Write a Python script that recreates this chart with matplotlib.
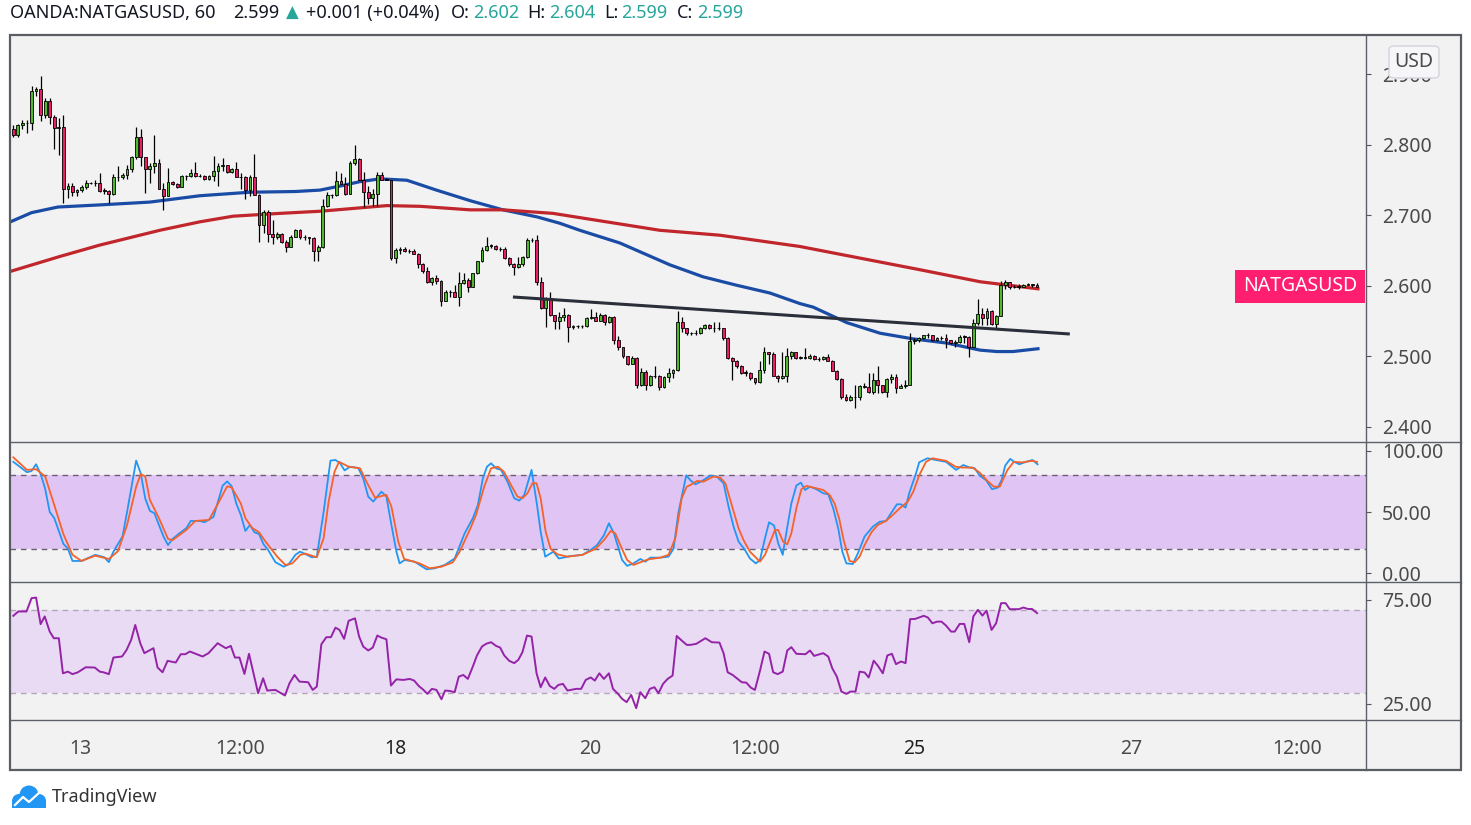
import matplotlib
matplotlib.use("Agg")
import numpy as np
import matplotlib.pyplot as plt
import matplotlib.transforms as mtransforms
from matplotlib.patches import Rectangle, FancyBboxPatch, Circle
from matplotlib.lines import Line2D

W, H = 1471, 825

# hourly candles, OANDA:NATGASUSD
opens = [
    2.822, 2.814, 2.828, 2.831, 2.831, 2.876, 2.880, 2.842, 2.863, 2.839,
    2.824, 2.825, 2.737, 2.742, 2.733, 2.736, 2.740, 2.746, 2.746, 2.746,
    2.735, 2.735, 2.730, 2.754, 2.754, 2.757, 2.766, 2.783, 2.811, 2.783,
    2.766, 2.770, 2.775, 2.737, 2.728, 2.747, 2.745, 2.741, 2.756, 2.756,
    2.760, 2.756, 2.756, 2.752, 2.756, 2.763, 2.770, 2.771, 2.762, 2.766,
    2.754, 2.754, 2.736, 2.754, 2.729, 2.687, 2.705, 2.674, 2.670, 2.674,
    2.663, 2.656, 2.670, 2.680, 2.669, 2.669, 2.668, 2.650, 2.655, 2.713,
    2.729, 2.729, 2.749, 2.745, 2.731, 2.774, 2.780, 2.751, 2.734, 2.725,
    2.731, 2.757, 2.751, 2.751, 2.639, 2.651, 2.652, 2.649, 2.650, 2.646,
    2.631, 2.621, 2.605, 2.612, 2.607, 2.579, 2.591, 2.591, 2.584, 2.604,
    2.609, 2.599, 2.618, 2.635, 2.651, 2.657, 2.657, 2.652, 2.652, 2.639,
    2.631, 2.627, 2.631, 2.641, 2.665, 2.665, 2.606, 2.569, 2.583, 2.559,
    2.551, 2.556, 2.559, 2.542, 2.543, 2.543, 2.543, 2.554, 2.556, 2.551,
    2.559, 2.549, 2.556, 2.524, 2.513, 2.500, 2.490, 2.498, 2.459, 2.478,
    2.459, 2.472, 2.472, 2.457, 2.471, 2.476, 2.481, 2.549, 2.540, 2.533,
    2.533, 2.534, 2.540, 2.545, 2.540, 2.540, 2.540, 2.526, 2.498, 2.494,
    2.487, 2.477, 2.477, 2.469, 2.464, 2.481, 2.506, 2.504, 2.473, 2.470,
    2.473, 2.500, 2.506, 2.498, 2.498, 2.498, 2.501, 2.496, 2.496, 2.499,
    2.494, 2.480, 2.468, 2.443, 2.438, 2.442, 2.442, 2.458, 2.457, 2.449,
    2.467, 2.459, 2.449, 2.468, 2.471, 2.456, 2.458, 2.460, 2.522, 2.523,
    2.526, 2.530, 2.530, 2.523, 2.526, 2.526, 2.523, 2.519, 2.520, 2.528,
    2.528, 2.514, 2.547, 2.560, 2.555, 2.565, 2.546, 2.558, 2.602, 2.605,
    2.598, 2.599, 2.599, 2.602, 2.602, 2.602,
]
highs = [
    2.828, 2.830, 2.836, 2.835, 2.884, 2.882, 2.898, 2.867, 2.867, 2.842,
    2.838, 2.843, 2.746, 2.746, 2.738, 2.743, 2.750, 2.748, 2.750, 2.760,
    2.739, 2.736, 2.759, 2.770, 2.760, 2.771, 2.785, 2.825, 2.822, 2.783,
    2.774, 2.814, 2.780, 2.746, 2.767, 2.749, 2.746, 2.757, 2.758, 2.766,
    2.776, 2.759, 2.757, 2.757, 2.784, 2.774, 2.781, 2.772, 2.768, 2.776,
    2.760, 2.756, 2.757, 2.787, 2.731, 2.708, 2.708, 2.693, 2.677, 2.675,
    2.665, 2.672, 2.681, 2.681, 2.672, 2.670, 2.669, 2.658, 2.724, 2.734,
    2.731, 2.763, 2.760, 2.754, 2.777, 2.800, 2.782, 2.762, 2.742, 2.738,
    2.761, 2.761, 2.753, 2.751, 2.654, 2.656, 2.656, 2.652, 2.652, 2.647,
    2.632, 2.627, 2.613, 2.615, 2.608, 2.594, 2.594, 2.602, 2.620, 2.619,
    2.611, 2.619, 2.636, 2.655, 2.670, 2.660, 2.658, 2.655, 2.656, 2.641,
    2.633, 2.641, 2.642, 2.668, 2.668, 2.672, 2.613, 2.585, 2.592, 2.559,
    2.563, 2.569, 2.560, 2.545, 2.545, 2.545, 2.556, 2.567, 2.563, 2.561,
    2.560, 2.558, 2.557, 2.529, 2.514, 2.501, 2.501, 2.499, 2.484, 2.481,
    2.474, 2.487, 2.474, 2.473, 2.483, 2.482, 2.564, 2.556, 2.541, 2.535,
    2.537, 2.542, 2.546, 2.546, 2.549, 2.549, 2.541, 2.527, 2.499, 2.495,
    2.488, 2.481, 2.478, 2.470, 2.494, 2.514, 2.507, 2.506, 2.474, 2.507,
    2.512, 2.508, 2.507, 2.500, 2.512, 2.504, 2.502, 2.499, 2.500, 2.503,
    2.495, 2.481, 2.469, 2.447, 2.446, 2.459, 2.459, 2.463, 2.477, 2.477,
    2.486, 2.460, 2.470, 2.475, 2.475, 2.461, 2.466, 2.534, 2.526, 2.528,
    2.531, 2.533, 2.531, 2.527, 2.529, 2.532, 2.524, 2.523, 2.530, 2.531,
    2.529, 2.553, 2.581, 2.569, 2.569, 2.566, 2.559, 2.607, 2.609, 2.606,
    2.601, 2.603, 2.603, 2.604, 2.603, 2.604,
]
lows = [
    2.811, 2.812, 2.822, 2.817, 2.821, 2.870, 2.834, 2.838, 2.830, 2.794,
    2.786, 2.718, 2.725, 2.728, 2.727, 2.734, 2.738, 2.744, 2.742, 2.734,
    2.731, 2.717, 2.729, 2.749, 2.752, 2.752, 2.762, 2.780, 2.770, 2.732,
    2.746, 2.760, 2.737, 2.708, 2.728, 2.743, 2.739, 2.740, 2.751, 2.754,
    2.755, 2.754, 2.750, 2.750, 2.749, 2.742, 2.763, 2.760, 2.760, 2.754,
    2.738, 2.723, 2.727, 2.729, 2.663, 2.675, 2.663, 2.660, 2.666, 2.661,
    2.648, 2.655, 2.669, 2.667, 2.665, 2.659, 2.635, 2.636, 2.654, 2.712,
    2.725, 2.727, 2.744, 2.729, 2.730, 2.772, 2.751, 2.712, 2.716, 2.714,
    2.713, 2.750, 2.750, 2.637, 2.633, 2.646, 2.648, 2.647, 2.645, 2.626,
    2.618, 2.604, 2.602, 2.603, 2.571, 2.579, 2.585, 2.584, 2.572, 2.603,
    2.591, 2.598, 2.617, 2.634, 2.650, 2.654, 2.651, 2.650, 2.638, 2.629,
    2.615, 2.626, 2.628, 2.640, 2.662, 2.602, 2.568, 2.542, 2.558, 2.539,
    2.539, 2.551, 2.521, 2.539, 2.541, 2.541, 2.542, 2.553, 2.550, 2.550,
    2.544, 2.548, 2.518, 2.509, 2.498, 2.488, 2.489, 2.456, 2.458, 2.453,
    2.458, 2.469, 2.453, 2.456, 2.464, 2.470, 2.480, 2.535, 2.531, 2.531,
    2.530, 2.532, 2.539, 2.539, 2.535, 2.537, 2.524, 2.497, 2.466, 2.484,
    2.475, 2.472, 2.467, 2.461, 2.463, 2.476, 2.490, 2.472, 2.464, 2.468,
    2.464, 2.496, 2.496, 2.496, 2.496, 2.496, 2.495, 2.493, 2.495, 2.493,
    2.479, 2.466, 2.440, 2.437, 2.437, 2.427, 2.438, 2.455, 2.448, 2.447,
    2.448, 2.448, 2.443, 2.462, 2.448, 2.456, 2.456, 2.459, 2.518, 2.521,
    2.525, 2.526, 2.522, 2.522, 2.523, 2.512, 2.518, 2.514, 2.519, 2.519,
    2.499, 2.513, 2.545, 2.545, 2.545, 2.545, 2.539, 2.557, 2.596, 2.596,
    2.597, 2.596, 2.598, 2.601, 2.599, 2.599,
]
closes = [
    2.814, 2.828, 2.831, 2.831, 2.876, 2.880, 2.842, 2.863, 2.839, 2.824,
    2.825, 2.737, 2.742, 2.733, 2.736, 2.740, 2.746, 2.746, 2.746, 2.735,
    2.735, 2.730, 2.754, 2.754, 2.757, 2.766, 2.783, 2.811, 2.783, 2.766,
    2.770, 2.775, 2.737, 2.728, 2.747, 2.745, 2.741, 2.756, 2.756, 2.760,
    2.756, 2.756, 2.752, 2.756, 2.763, 2.770, 2.771, 2.762, 2.766, 2.754,
    2.754, 2.736, 2.754, 2.729, 2.687, 2.705, 2.674, 2.670, 2.674, 2.663,
    2.656, 2.670, 2.680, 2.669, 2.669, 2.668, 2.650, 2.655, 2.713, 2.729,
    2.729, 2.749, 2.745, 2.731, 2.774, 2.780, 2.751, 2.734, 2.725, 2.731,
    2.757, 2.751, 2.751, 2.639, 2.651, 2.652, 2.649, 2.650, 2.646, 2.631,
    2.621, 2.605, 2.612, 2.607, 2.579, 2.591, 2.591, 2.584, 2.604, 2.609,
    2.599, 2.618, 2.635, 2.651, 2.657, 2.657, 2.652, 2.652, 2.639, 2.631,
    2.627, 2.631, 2.641, 2.665, 2.665, 2.606, 2.569, 2.583, 2.559, 2.551,
    2.556, 2.559, 2.542, 2.543, 2.543, 2.543, 2.554, 2.556, 2.551, 2.559,
    2.549, 2.556, 2.524, 2.513, 2.500, 2.490, 2.498, 2.459, 2.478, 2.459,
    2.472, 2.472, 2.457, 2.471, 2.476, 2.481, 2.549, 2.540, 2.533, 2.533,
    2.534, 2.540, 2.545, 2.540, 2.540, 2.540, 2.526, 2.498, 2.494, 2.487,
    2.477, 2.477, 2.469, 2.464, 2.481, 2.506, 2.504, 2.473, 2.470, 2.473,
    2.500, 2.506, 2.498, 2.498, 2.498, 2.501, 2.496, 2.496, 2.499, 2.494,
    2.480, 2.468, 2.443, 2.438, 2.442, 2.442, 2.458, 2.457, 2.449, 2.467,
    2.459, 2.449, 2.468, 2.471, 2.456, 2.458, 2.460, 2.522, 2.523, 2.526,
    2.530, 2.530, 2.523, 2.526, 2.526, 2.523, 2.519, 2.520, 2.528, 2.528,
    2.514, 2.547, 2.560, 2.555, 2.565, 2.546, 2.558, 2.602, 2.605, 2.598,
    2.599, 2.599, 2.602, 2.602, 2.602, 2.599,
]

# moving averages (bar index, price)
ma_fast = [(-1, 2.690), (4, 2.704), (9.8, 2.712), (19, 2.715), (30, 2.719), (41, 2.728),
           (52, 2.733), (62, 2.734), (67.4, 2.736), (72, 2.742), (76.2, 2.748), (80.6, 2.752),
           (86.5, 2.750), (93, 2.736), (100.4, 2.721), (107.6, 2.708), (115.1, 2.698),
           (120.1, 2.689), (124.5, 2.679), (133.3, 2.661), (144.3, 2.630), (151.6, 2.613),
           (159, 2.601), (166.3, 2.590), (172.9, 2.575), (175.8, 2.570), (183.2, 2.548),
           (190.5, 2.533), (197.7, 2.525), (205.2, 2.519), (212.5, 2.509), (216.2, 2.507),
           (219.7, 2.507), (225.2, 2.511)]
ma_slow = [(-1, 2.620), (10.3, 2.642), (19, 2.658), (32.2, 2.679), (41, 2.691), (48.3, 2.699),
           (58.6, 2.703), (67.4, 2.706), (78.4, 2.712), (82.1, 2.714), (89.4, 2.713),
           (100.4, 2.708), (107.6, 2.708), (118.6, 2.703), (142.1, 2.679), (155.3, 2.672),
           (172.9, 2.656), (199.3, 2.623), (212.5, 2.606), (225.2, 2.596)]
trend_line = [(109.8, 2.5844), (232.2, 2.5319)]

stoch_k = [(0, 91), (3, 82.5), (4, 83.5), (5, 89), (6, 81), (7, 69), (8, 50), (9, 45), (11, 24),
           (12, 20), (13, 10), (15, 10), (18, 15), (20, 13), (21, 9), (22, 17.6), (24, 30),
           (25, 50), (27, 92), (28, 81.6), (29, 61), (30, 51), (31, 49), (33, 30), (34, 23),
           (35, 28), (36.5, 32.6), (38, 36.7), (39, 42.7), (41, 42.7), (42, 41.6), (44, 46),
           (46, 71.5), (47, 75), (48, 71), (49, 57), (50, 47.6), (51, 34.5), (52, 39.4),
           (53, 33.4), (54, 32), (55, 23.6), (56, 19), (57.6, 9), (59.4, 5.3), (60.5, 7.2),
           (62, 15), (63, 17.6), (64, 16), (65.6, 13), (66.7, 13.5), (68.2, 50), (69.7, 92),
           (70.8, 92.5), (71.8, 90), (72.8, 84), (74, 87), (75.8, 86), (76.9, 77.5), (78, 62.6),
           (79.1, 58.5), (80.9, 66.6), (82, 62.6), (83.1, 39.4), (84.2, 17.6), (84.9, 8),
           (86, 10.8), (88.2, 9.4), (90.8, 3.2), (92.6, 4), (94.8, 6.7), (97, 12), (99.2, 32.6),
           (101, 45), (102.1, 55.7), (103.2, 77.5), (104.1, 87), (105, 89.8), (106.1, 85.7),
           (107.2, 84.4), (108.6, 74.8), (110.1, 61.2), (111.2, 59.3), (112.3, 64),
           (113.9, 84.4), (115.1, 55.7), (115.9, 34), (116.9, 13.5), (118.7, 17.6), (119.9, 12),
           (122.5, 14), (125.1, 15), (126.9, 19), (128.3, 23), (129.8, 31), (130.9, 40.8),
           (132, 32.6), (133.8, 10.8), (134.9, 6), (136.3, 8), (137.8, 11.6), (138.9, 9.4),
           (140, 12.7), (142.2, 12.7), (144, 13.5), (145.1, 20), (146.2, 50), (147.9, 80),
           (148.8, 76), (149.9, 72.6), (151.4, 75.4), (153.2, 79.7), (154.6, 79), (156.1, 73.5),
           (157.2, 54.4), (158.3, 38), (159.4, 25.8), (160.8, 19), (161.9, 12), (163.2, 8),
           (164.1, 10.8), (165.2, 28.5), (166.1, 41.6), (167.2, 38.9), (168.1, 24.4),
           (169.1, 15), (170, 35.3), (171, 57), (172.1, 71.6), (173.1, 74), (174, 68),
           (175.1, 70.7), (176.5, 68.6), (178, 65.3), (179.1, 64.5), (180.2, 53), (181.3, 36.7),
           (182.2, 17.6), (183.1, 8), (184.5, 7.5), (185.6, 16), (187.1, 30), (188.9, 38),
           (190.4, 42), (191.8, 42.7), (192.9, 49), (194.2, 56.3), (195.1, 56.3), (196.1, 53.6),
           (196.9, 65.3), (198.4, 81.6), (199.1, 90.6), (200.9, 93.9), (202.8, 92.5), (205, 91),
           (207.2, 84.4), (208.8, 88.4), (210.2, 86.3), (211.3, 85.7), (212.4, 79.7),
           (213.8, 76), (215.1, 68.6), (216.4, 70), (217.2, 76), (218, 87.9), (219.1, 93.4),
           (220, 91), (221.1, 89), (222.6, 91), (224, 92.5), (225.1, 89)]
stoch_d = [(0, 94.7), (3, 84.4), (5, 85), (7, 79), (9, 55.7), (11, 32), (13, 15), (15, 10),
           (18, 14.3), (21, 11.6), (23, 18), (25, 39.4), (27, 70.7), (28, 81), (29, 79), (30, 60),
           (32, 45), (34, 28), (35, 27), (38, 35.3), (40, 42.7), (43, 43.5), (45, 57), (47, 71),
           (48, 70), (50, 57), (51, 45), (52.5, 37), (54, 33.4), (55.4, 26), (58, 13.5),
           (59.8, 6.7), (61.3, 8), (63.1, 15), (64.2, 16), (66.7, 13), (68.2, 28.5), (69.3, 58.5),
           (70.6, 83), (71.6, 91), (73.7, 87), (74.7, 86.5), (76.2, 85.7), (77.6, 74.8),
           (79.5, 61.7), (82, 64), (83.1, 54.4), (84.6, 25.8), (85.9, 11.6), (87.5, 10),
           (89.3, 8), (91.5, 4), (94.1, 5.3), (96.6, 8.9), (98.1, 17.6), (100.3, 35.3),
           (101.7, 47.6), (103.5, 70.7), (105, 85.7), (106.5, 87), (107.8, 83), (109.4, 72),
           (110.8, 62.6), (111.9, 61.2), (113, 65.3), (114.1, 73.5), (115, 73.5), (115.9, 61.2),
           (117, 34), (118.1, 19.8), (119.6, 15.4), (121.8, 13.5), (125.1, 15), (128, 20),
           (129.8, 27), (131.3, 34.5), (132.3, 32.6), (133.4, 23), (134.9, 10.8), (136.3, 6.7),
           (137.8, 8.9), (139.6, 11.3), (142.2, 12.7), (144, 15), (145.5, 28.5), (146.9, 61.2),
           (148, 70.7), (148.8, 72), (150.3, 75.4), (151.7, 74.8), (153.9, 79), (155.4, 78),
           (156.5, 73.5), (157.9, 55.7), (159.4, 36.7), (160.5, 27), (161.9, 17.6), (164.1, 9.4),
           (165.2, 15), (166.5, 27), (167.4, 35.3), (168.1, 35.3), (169.2, 25.8), (170.1, 23.6),
           (171, 32.6), (172.1, 53), (173.2, 68.6), (174.3, 71.3), (176.5, 69.4), (178, 68),
           (179.4, 64), (180.5, 57), (181.5, 44.8), (182.5, 27), (183.8, 10), (184.9, 8.9),
           (186, 13.5), (187.1, 23), (188.6, 33.4), (190, 39.4), (191.8, 42.7), (193.3, 47.6),
           (194.8, 53), (196.6, 58.5), (197.8, 66.6), (199.1, 80), (200.6, 91), (202, 93.9),
           (205, 91.8), (207.1, 87), (208.6, 86.3), (210.8, 86.3), (212.3, 82.5), (214.1, 75.4),
           (215.5, 70.7), (216.8, 70.7), (218.5, 84.4), (219.9, 91), (221.7, 90.5),
           (223.9, 91.8), (225, 91)]
rsi = [(0, 67.3), (1.1, 69.4), (2.9, 69.4), (4, 75.8), (5, 76.1), (6, 63.3), (6.9, 67), (8, 59.7),
       (8.9, 56.5), (10, 56.5), (10.9, 39.6), (12, 40.4), (13, 39.2), (14.2, 40.1), (15.9, 42.5),
       (17.9, 42.4), (19, 40.4), (19.8, 40.1), (21, 39.2), (22, 47.2), (23.9, 47.7), (24.9, 50.9),
       (25.9, 55.7), (26.8, 62.9), (27.9, 54.1), (28.8, 49.3), (30.8, 51.7), (31.7, 42.4),
       (32.8, 40.1), (33.9, 45.6), (35.7, 44.8), (36.8, 48.8), (37.8, 48.8), (38.8, 50.1),
       (41.6, 47.7), (42.9, 49.3), (44.9, 54.1), (46.7, 51.7), (47.8, 52.8), (48.7, 47.2),
       (49.7, 47.2), (50.8, 39.3), (51.8, 49), (53.8, 30), (54.9, 37.2), (55.8, 31.3),
       (57.6, 31.6), (59.7, 28.9), (60.7, 34.8), (61.8, 38.8), (62.9, 35.6), (64.8, 35.3),
       (65.8, 31.6), (66.7, 33.2), (67.7, 53.6), (68.8, 57), (69.8, 57), (70.8, 61.6),
       (71.7, 60.5), (72.7, 56.2), (73.7, 64.9), (75.1, 66.1), (76, 57.3), (76.9, 52.5),
       (78, 50.6), (79, 52), (80, 57.8), (80.9, 56.8), (82, 56), (83, 33.7), (84.2, 36.7),
       (85.7, 36.4), (87.1, 36.9), (88.1, 36.1), (89.1, 33.5), (90, 31.9), (91, 29.7),
       (92, 32.1), (93, 31.6), (94.1, 27.1), (94.9, 31.3), (95.9, 31.1), (97, 30.5), (97.9, 38),
       (98.9, 38.8), (99.9, 36.9), (101, 42.9), (101.9, 48.2), (103, 52.5), (103.9, 53.8),
       (105, 54.6), (106.1, 52.8), (107, 52), (107.9, 48.2), (109, 45.6), (110.1, 44.5),
       (111, 46.1), (111.9, 49.8), (112.9, 57.8), (113.9, 57.3), (115, 39.6), (115.9, 32.9),
       (116.9, 37.6), (117.9, 33.5), (118.9, 32.1), (119.8, 34), (120.8, 34.5), (121.8, 31.3),
       (123.7, 32.1), (124.8, 32.1), (125.8, 36.4), (126.9, 37.6), (127.8, 36.1), (128.8, 39.6),
       (129.8, 36.9), (130.9, 39.6), (131.8, 32.1), (132.9, 29.7), (133.8, 27.3), (134.8, 25.7),
       (135.8, 29.2), (136.9, 22.8), (137.8, 30.5), (138.9, 27.6), (139.9, 32.1), (140.9, 32.9),
       (141.8, 30), (142.8, 34.5), (143.8, 36.9), (144.9, 38.5), (145.8, 57.6), (146.9, 55.4),
       (148, 53.3), (148.8, 53.3), (150.1, 53.8), (152.1, 56.5), (153.5, 54.6), (155.2, 54.4),
       (156.1, 49.3), (157, 40.1), (158.1, 38.8), (159, 37.2), (160.1, 35.3), (161.1, 35.1),
       (162.1, 32.7), (163, 31.6), (164.1, 40.8), (165.1, 50.1), (166.1, 49), (167, 40.1),
       (168, 39.2), (169.1, 40.4), (170.1, 50.6), (171, 52.2), (172.1, 49), (174.1, 48.8),
       (175.1, 50.6), (176, 48), (178, 49.3), (179.1, 47.7), (180, 42), (181, 38), (182, 30.8),
       (183.1, 29.7), (184, 30.8), (185.1, 30.8), (186, 40.4), (187.1, 40), (188, 37.6),
       (189.1, 45.7), (190, 43.3), (191.1, 39.6), (192.1, 48.2), (193.1, 49), (194, 44),
       (195.1, 45.3), (196.1, 44.5), (197.1, 65.7), (198.2, 65.8), (200.1, 67.3), (201, 66.5),
       (202, 63.7), (203, 64.5), (204, 64.5), (205, 62.6), (206.1, 59.7), (206.9, 59.7),
       (208, 63.4), (209, 63.4), (210.1, 54.6), (211, 67), (212, 70.2), (213, 67.4),
       (213.9, 69.8), (215, 60.5), (216, 63.7), (217.1, 73.4), (218.1, 73.4), (219, 70.5),
       (221, 70.5), (222, 71.3), (223, 70.6), (223.9, 70.6), (225, 68.6)]

time_ticks = [14.65, 49.8, 83.9, 126.9, 163.0, 197.9, 245.8, 282.1]
time_labels = ["13", "12:00", "18", "20", "12:00", "25", "27", "12:00"]
time_bold = [False, False, True, False, False, True, False, False]

header = [("OANDA:NATGASUSD, 60", 10, "#131722", "bold"), ("2.599", 233, "#131722", "normal"),
          ("+0.001 (+0.04%)", 306, "#131722", "normal"), ("O:", 451, "#131722", "bold"),
          ("2.602", 473, "#26a69a", "normal"), ("H:", 527, "#131722", "bold"),
          ("2.604", 549, "#26a69a", "normal"), ("L:", 604, "#131722", "bold"),
          ("2.599", 621, "#26a69a", "normal"), ("C:", 677, "#131722", "bold"),
          ("2.599", 697, "#26a69a", "normal")]

GREEN = "#52b82b"
RED = "#e91e63"
BG = "#f2f2f2"
TXT = "#4a4a4a"

plt.rcParams["font.family"] = ["Noto Sans", "DejaVu Sans"]


def px_rect(x0, y0, x1, y1):
    return [x0 / W, 1 - y1 / H, (x1 - x0) / W, (y1 - y0) / H]


def hline_px(fig, y, x0=10, x1=1461, color="#5d6068", lw=1.0):
    fig.add_artist(Line2D([x0 / W, x1 / W], [1 - y / H, 1 - y / H], color=color, lw=lw,
                          transform=fig.transFigure))


fig = plt.figure(figsize=(W / 100, H / 100), dpi=100)
fig.patch.set_facecolor("white")
fig.add_artist(Rectangle((10 / W, 1 - 770 / H), 1451 / W, 735 / H, transform=fig.transFigure,
                         fc=BG, ec="none", zorder=-5))

ax = fig.add_axes(px_rect(10, 35, 1366, 442))
ax_st = fig.add_axes(px_rect(10, 442, 1366, 582))
ax_rsi = fig.add_axes(px_rect(10, 582, 1366, 720))

for a in (ax, ax_st, ax_rsi):
    a.set_facecolor(BG)
    for s in a.spines.values():
        s.set_visible(False)
    a.set_xlim(-0.73, 297.3)
    a.yaxis.tick_right()
    a.tick_params(axis="y", direction="out", length=3.5, width=0.8, color="#555555",
                  pad=8, labelsize=14, labelcolor=TXT)
    a.tick_params(axis="x", length=0)

# candles
x = np.arange(len(closes))
o = np.array(opens)
c = np.array(closes)
hi = np.array(highs)
lo = np.array(lows)
body_lo = np.minimum(o, c)
body_h = np.abs(c - o)
doji = body_h < 0.0005
body_h = np.where(doji, 0.0006, body_h)
colors = np.where(doji, "black", np.where(c > o, GREEN, RED))

ax.plot([p[0] for p in ma_fast], [p[1] for p in ma_fast], color="#1a4ca6", lw=2.3, zorder=2)
ax.plot([p[0] for p in ma_slow], [p[1] for p in ma_slow], color="#c0262b", lw=2.3, zorder=2)
ax.vlines(x, lo, hi, color="black", lw=0.9, zorder=3)
ax.bar(x, body_h, bottom=body_lo, width=0.62, color=colors, edgecolor="black",
       linewidth=0.6, zorder=4)
ax.plot([p[0] for p in trend_line], [p[1] for p in trend_line], color="#2b2f3a", lw=2.2,
        zorder=5, solid_capstyle="butt")

ax.set_ylim(2.3787, 2.956)
ax.set_yticks([2.4, 2.5, 2.6, 2.7, 2.8, 2.9])
ax.set_yticklabels([f"{v:.3f}" for v in [2.4, 2.5, 2.6, 2.7, 2.8, 2.9]])
ax.set_xticks([])

# stochastic
ax_st.axhspan(20, 80, color="#e0c5f4", lw=0, zorder=0)
for lvl in (20, 80):
    ax_st.axhline(lvl, color="#6a5f72", lw=1.0, dashes=(4, 3.5), zorder=1)
ax_st.plot([p[0] for p in stoch_k], [p[1] for p in stoch_k], color="#2196f3", lw=1.3, zorder=3)
ax_st.plot([p[0] for p in stoch_d], [p[1] for p in stoch_d], color="#f5622a", lw=1.3, zorder=3)
ax_st.set_ylim(-7.2, 107.2)
ax_st.set_yticks([0, 50, 100])
ax_st.set_yticklabels(["0.00", "50.00", "100.00"])
ax_st.set_xticks([])

# rsi
ax_rsi.axhspan(30, 70, color="#e9dbf4", lw=0, zorder=0)
for lvl in (30, 70):
    ax_rsi.axhline(lvl, color="#b3a6bb", lw=1.0, dashes=(4, 3.5), zorder=1)
ax_rsi.plot([p[0] for p in rsi], [p[1] for p in rsi], color="#9423a8", lw=1.4, zorder=3)
ax_rsi.set_ylim(17.1, 83.6)
ax_rsi.set_yticks([25, 75])
ax_rsi.set_yticklabels(["25.00", "75.00"])
ax_rsi.set_xticks(time_ticks)
ax_rsi.set_xticklabels(time_labels)
ax_rsi.tick_params(axis="x", length=0, pad=14, labelsize=14, labelcolor=TXT)
for lbl, b in zip(ax_rsi.get_xticklabels(), time_bold):
    if b:
        lbl.set_fontweight("bold")
        lbl.set_color("#222222")

# frame and separators
for yy in (442, 582, 720):
    hline_px(fig, yy)
fig.add_artist(Line2D([1366 / W, 1366 / W], [1 - 770 / H, 1 - 35 / H], color="#5d6068", lw=1.0,
                      transform=fig.transFigure))
fig.add_artist(Rectangle((10 / W, 1 - 770 / H), 1451 / W, 735 / H, transform=fig.transFigure,
                         fc="none", ec="#5a5d64", lw=1.6, zorder=6))

# USD box over the top price label
fig.add_artist(FancyBboxPatch((1389 / W, 1 - 78 / H), 50 / W, 32 / H, transform=fig.transFigure,
                              boxstyle="round,pad=0,rounding_size=0.004", fc="#f6f6f8",
                              ec="#d3d4dc", lw=1.0, zorder=7))
fig.text(1414 / W, 1 - 62 / H, "USD", ha="center", va="center", fontsize=14, color=TXT, zorder=8)

# symbol label
fig.add_artist(Rectangle((1235 / W, 1 - 302.5 / H), 130 / W, 32.5 / H, transform=fig.transFigure,
                         fc="#ff1e70", ec="none", zorder=7))
fig.text(1300 / W, 1 - 286 / H, "NATGASUSD", ha="center", va="center", fontsize=14,
         color="white", zorder=8)

# header
for txt, xp, col, wt in header:
    fig.text(xp / W, 1 - 13 / H, txt, ha="left", va="center", fontsize=13, color=col,
             weight=wt)
fig.text(286 / W, 1 - 13 / H, "\u25B2", ha="left", va="center", fontsize=12, color="#26a69a",
         family="DejaVu Sans")

# TradingView logo
pix = mtransforms.IdentityTransform()
for cx, cy, r in [(19, 801, 7), (29, 795, 9.5), (39, 801, 7)]:
    fig.add_artist(Circle((cx, H - cy), r, transform=pix, fc="#2196f3", ec="none"))
fig.add_artist(Rectangle((12, H - 808), 34, 8, transform=pix, fc="#2196f3", ec="none"))
fig.add_artist(Line2D([15, 23, 29, 40], [H - 805, H - 797, H - 802, H - 792], transform=pix,
                      color="white", lw=1.6))
fig.text(52 / W, 1 - 797 / H, "TradingView", ha="left", va="center", fontsize=13, color="#333333")

fig.savefig("out.png", dpi=100, facecolor="white")
